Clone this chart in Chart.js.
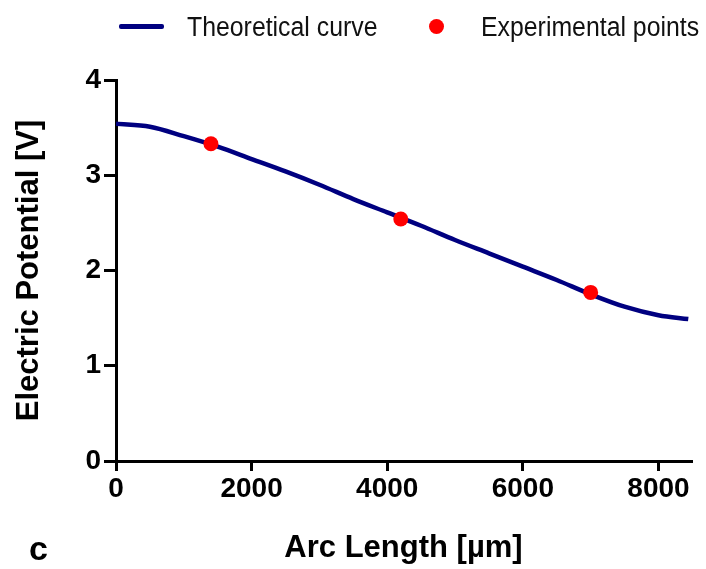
<!DOCTYPE html>
<html>
<head>
<meta charset="utf-8">
<script src="https://cdn.jsdelivr.net/npm/chart.js@4"></script>
<style>
  body { margin: 0; background: #fff; }
  #wrap { position: relative; width: 706px; height: 569px; }
  #myChart { position: absolute; left: 0; top: 0; }
  .lg { position: absolute; font-family: "Liberation Sans", Arial, sans-serif; font-size: 27px; color: #111; line-height: 27px; white-space: nowrap; transform: scaleX(0.92); transform-origin: 0 0; }
  #lgLine { position: absolute; left: 119px; top: 24px; width: 45px; height: 5px; background: #000080; border-radius: 2px; }
  #lgDot { position: absolute; left: 429px; top: 19px; width: 15px; height: 15px; border-radius: 50%; background: #ff0000; }
  #panel { position: absolute; left: 29px; top: 531px; font-family: "Liberation Sans", Arial, sans-serif; font-weight: bold; font-size: 34px; line-height: 34px; color: #000; }
</style>
</head>
<body>
<div id="wrap">
  <canvas id="myChart" width="706" height="569"></canvas>
  <div id="lgLine"></div>
  <div class="lg" style="left:187px; top:14px;">Theoretical curve</div>
  <div id="lgDot"></div>
  <div class="lg" style="left:481px; top:14px;">Experimental points</div>
  <div id="panel">c</div>
</div>
<script>
// theoretical curve
var curveX = [0, 500, 1000, 1500, 2000, 2500, 3000, 3500, 4000, 4500, 5000, 5500, 6000, 6500, 7000, 7500, 8000, 8440];
var curveY = [3.54, 3.51, 3.41, 3.30, 3.17, 3.04, 2.90, 2.75, 2.61, 2.47, 2.32, 2.18, 2.04, 1.90, 1.75, 1.62, 1.53, 1.49];

// experimental points
var pointX = [1400, 4200, 7000];
var pointY = [3.33, 2.54, 1.77];

var xTicks = [0, 2000, 4000, 6000, 8000];
var yTicks = [0, 1, 2, 3, 4];

var xTitle = "Arc Length [µm]";
var yTitle = "Electric Potential [V]";

var fam = '"Liberation Sans", Arial, sans-serif';

function toXY(xs, ys){
    var out = [];
    for (var i = 0; i < xs.length; i++) out.push({x: xs[i], y: ys[i]});
    return out;
}

document.addEventListener('DOMContentLoaded', () => {
    new Chart("myChart", {
        type: "scatter",
        data: {
        datasets: [
        {
            label: "Theoretical curve",
            data: toXY(curveX, curveY),
            showLine: true,
            borderColor: "#000080",
            borderWidth: 4.5,
            pointRadius: 0,
            cubicInterpolationMode: "monotone",
            fill: false,
            order: 2
        },
        {
            label: "Experimental points",
            data: toXY(pointX, pointY),
            showLine: false,
            backgroundColor: "#ff0000",
            borderColor: "#ff0000",
            pointRadius: 7.5,
            borderWidth: 0,
            order: 1
        }
        ]},
        options: {
        responsive: false,
        animation: false,
        layout: {padding: {left: 0, top: 80, right: 15, bottom: 0}},
        plugins: {legend: {display: false}, tooltip: {enabled: false}},
        scales: {
            x: {
                type: "linear",
                min: 0, max: 8480,
                afterFit: function(s){ s.height = 108; },
                afterBuildTicks: function(s){ s.ticks = xTicks.map(v => ({value: v})); },
                border: {display: true, color: "#000", width: 3},
                grid: {drawOnChartArea: false, drawTicks: true, tickLength: 10, color: "#000", lineWidth: 3},
                ticks: {padding: 1, color: "#000", callback: v => String(v),
                        font: {family: fam, size: 28, weight: "bold"}},
                title: {display: true, text: xTitle, color: "#000", padding: {top: 2, bottom: 2},
                        font: {family: fam, size: 31, weight: "bold"}}
            },
            y: {
                min: 0, max: 4,
                afterFit: function(s){ s.width = 116; },
                afterBuildTicks: function(s){ s.ticks = yTicks.map(v => ({value: v})); },
                border: {display: true, color: "#000", width: 3},
                grid: {drawOnChartArea: false, drawTicks: true, tickLength: 12, color: "#000", lineWidth: 3},
                ticks: {padding: 3, color: "#000", callback: v => String(v),
                        font: {family: fam, size: 28, weight: "bold"}},
                title: {display: true, text: yTitle, color: "#000", padding: {top: 11, bottom: 11},
                        font: {family: fam, size: 31, weight: "bold"}}
            }
        }
        }
    });
});
</script>
</body>
</html>
